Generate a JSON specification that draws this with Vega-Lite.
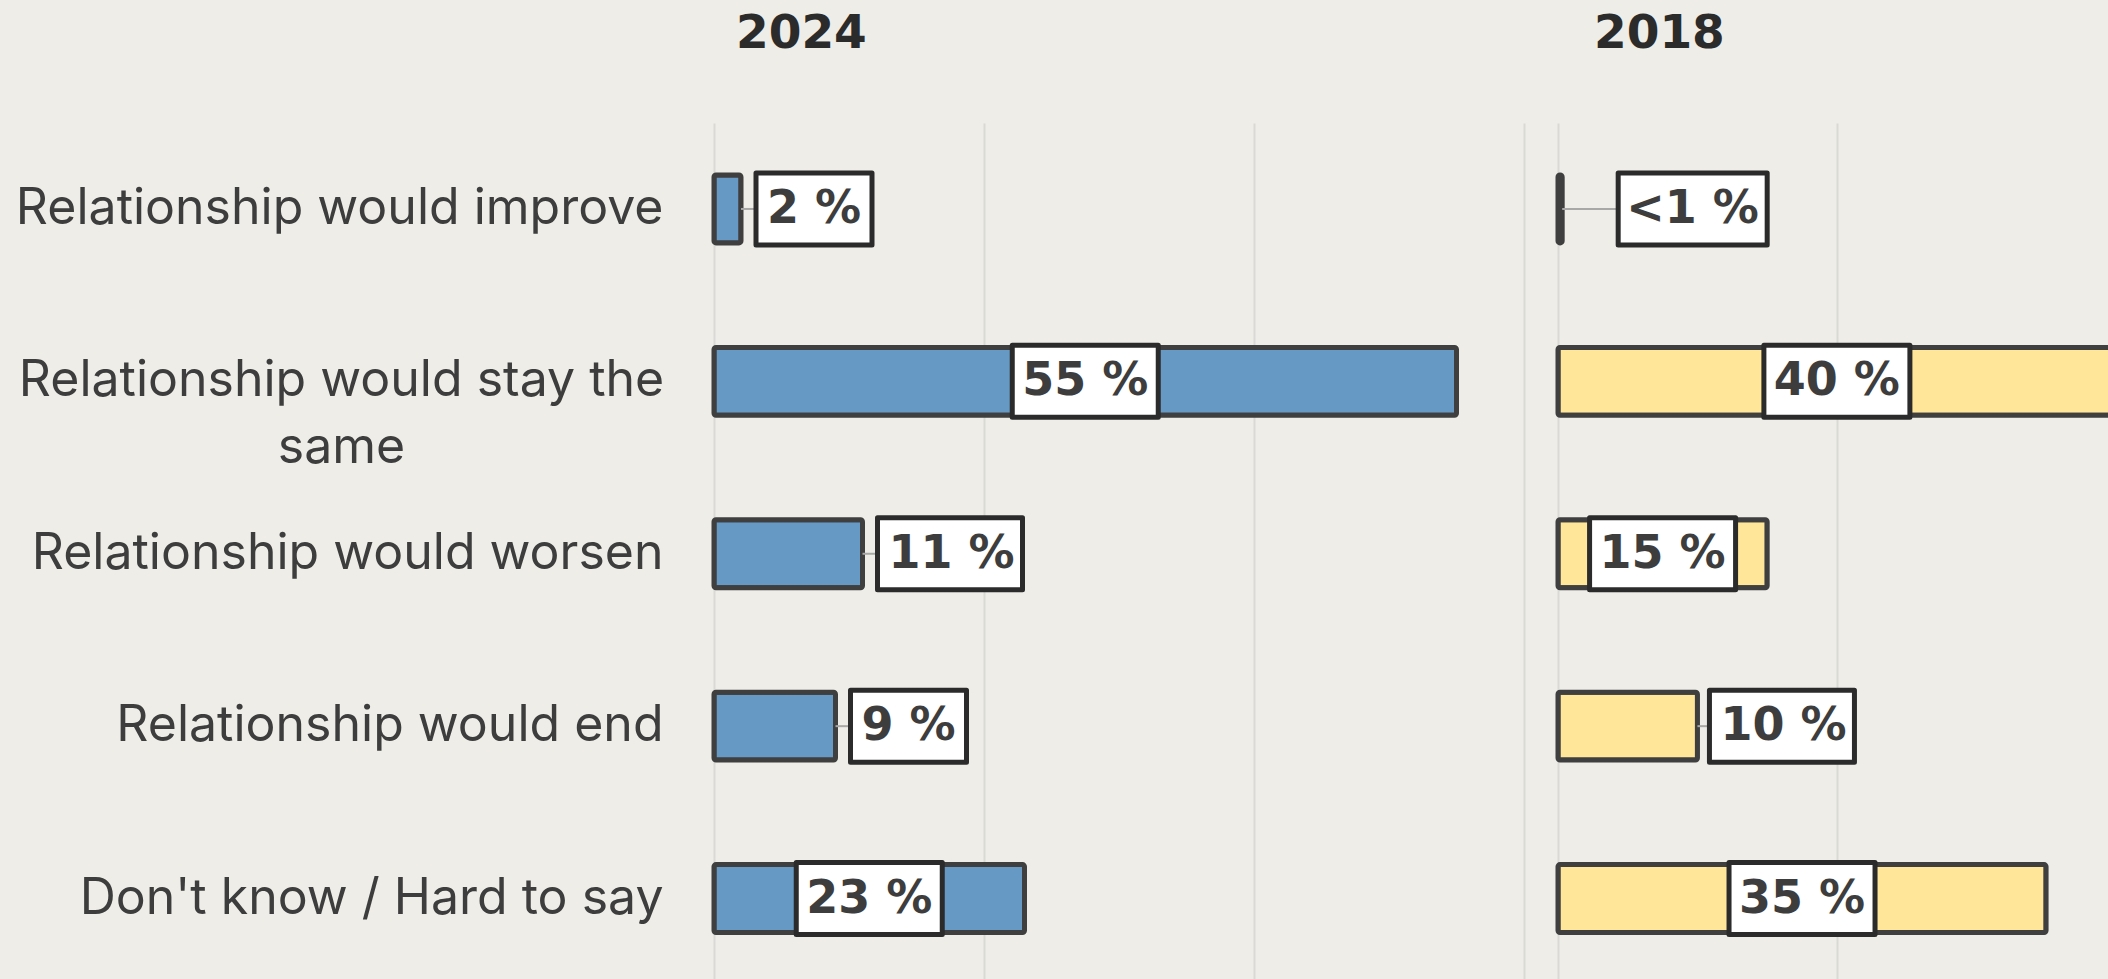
{
  "$schema": "https://vega.github.io/schema/vega-lite/v6.json",
  "background": "#eeede7",
  "padding": {"left": 15, "top": 10, "right": 0, "bottom": 0},
  "config": {"view": {"stroke": null}, "font": "Inter"},
  "spacing": 31,
  "data": {"values": [
    {"year": "2024", "answer": "Relationship would improve", "value": 2, "label": "2 %"},
    {"year": "2024", "answer": "Relationship would stay the same", "value": 55, "label": "55 %"},
    {"year": "2024", "answer": "Relationship would worsen", "value": 11, "label": "11 %"},
    {"year": "2024", "answer": "Relationship would end", "value": 9, "label": "9 %"},
    {"year": "2024", "answer": "Don't know / Hard to say", "value": 23, "label": "23 %"},
    {"year": "2018", "answer": "Relationship would improve", "value": 0.3, "label": "<1 %"},
    {"year": "2018", "answer": "Relationship would stay the same", "value": 40, "label": "40 %"},
    {"year": "2018", "answer": "Relationship would worsen", "value": 15, "label": "15 %"},
    {"year": "2018", "answer": "Relationship would end", "value": 10, "label": "10 %"},
    {"year": "2018", "answer": "Don't know / Hard to say", "value": 35, "label": "35 %"}
  ]},
  "hconcat": [
    {
      "width": 810,
      "height": 856,
      "title": {"text": "2024", "anchor": "start", "frame": "group", "dx": 22, "offset": 28, "baseline": "alphabetic", "font": "DejaVu Sans", "fontSize": 47, "fontWeight": "bold", "color": "#2b2b2b"},
      "transform": [{"filter": "datum.year == '2024'"}],
      "encoding": {
        "y": {
          "field": "answer", "type": "nominal",
          "sort": ["Relationship would improve", "Relationship would stay the same", "Relationship would worsen", "Relationship would end", "Don't know / Hard to say"],
          "scale": {"paddingInner": 0.606, "paddingOuter": 0.2856, "align": 0.528},
          "axis": {
            "title": null, "ticks": false, "domain": false, "grid": false,
            "labelFont": "Inter", "labelFontSize": 50, "labelColor": "#3d3d3d",
            "labelLimit": 1200, "labelLineHeight": 67,
            "labelBaseline": "middle",
            "labelAlign": {"condition": {"test": "datum.value == 'Relationship would stay the same'", "value": "center"}, "value": "right"},
            "labelPadding": {"condition": {"test": "datum.value == 'Relationship would stay the same'", "value": 373}, "value": 51},
            "labelExpr": "datum.label == 'Relationship would stay the same' ? ['Relationship would stay the', 'same'] : datum.label"
          }
        }
      },
      "layer": [
        {
          "mark": {"type": "bar", "color": "#6699c4", "fill": "#6699c4", "fillOpacity": 1, "stroke": "#3f3f3f", "strokeWidth": 5, "cornerRadius": 2},
          "encoding": {
            "x": {"field": "value", "type": "quantitative", "scale": {"domain": [0, 60], "nice": false},
              "axis": {"labels": false, "ticks": false, "domain": false, "title": null, "values": [0, 20, 40, 60], "grid": true, "gridColor": "#d9d9d5", "gridWidth": 2}}
          }
        },
        {
          "transform": [{"filter": "datum.value >= 15"}],
          "encoding": {"x": {"field": "value", "type": "quantitative", "scale": {"domain": [0, 120], "nice": false}, "axis": null}},
          "layer": [
            {"mark": {"type": "point", "shape": "M-0.73,-0.36H0.73V0.36H-0.73Z", "size": 40000, "fill": "#ffffff", "stroke": "#2b2b2b", "strokeWidth": 5, "opacity": 1, "strokeJoin": "round"}},
            {"mark": {"type": "text", "font": "DejaVu Sans", "fontWeight": "bold", "fontSize": 46, "fill": "#3d3d3d", "baseline": "middle", "align": "center"},
              "encoding": {"text": {"field": "label"}}}
          ]
        },
        {
          "transform": [{"filter": "datum.value >= 1 && datum.value < 15"}],
          "encoding": {"x": {"field": "value", "type": "quantitative", "scale": {"domain": [0, 60], "nice": false}, "axis": null}},
          "layer": [
            {"mark": {"type": "rule", "x2Offset": 15, "stroke": "#a8a8a8", "strokeWidth": 2}, "encoding": {"x2": {"field": "value"}}},
            {"mark": {"type": "point", "size": 40000, "fill": "#ffffff", "stroke": "#2b2b2b", "strokeWidth": 5, "opacity": 1, "strokeJoin": "round"},
              "encoding": {"shape": {"condition": {"test": "length(datum.label) > 3", "value": "M0.15,-0.36H1.60V0.36H0.15Z"}, "value": "M0.15,-0.36H1.31V0.36H0.15Z"}}},
            {"mark": {"type": "text", "font": "DejaVu Sans", "fontWeight": "bold", "fontSize": 46, "fill": "#3d3d3d", "baseline": "middle", "align": "left", "dx": 26},
              "encoding": {"text": {"field": "label"}}}
          ]
        }
      ],
      "resolve": {"scale": {"x": "independent"}}
    },
    {
      "width": 555,
      "height": 856,
      "title": {"text": "2018", "anchor": "start", "frame": "group", "dx": 36, "offset": 28, "baseline": "alphabetic", "font": "DejaVu Sans", "fontSize": 47, "fontWeight": "bold", "color": "#2b2b2b"},
      "transform": [{"filter": "datum.year == '2018'"}],
      "encoding": {
        "y": {
          "field": "answer", "type": "nominal",
          "sort": ["Relationship would improve", "Relationship would stay the same", "Relationship would worsen", "Relationship would end", "Don't know / Hard to say"],
          "scale": {"paddingInner": 0.606, "paddingOuter": 0.2856, "align": 0.528},
          "axis": null
        }
      },
      "layer": [
        {
          "mark": {"type": "bar", "color": "#ffe699", "fill": "#ffe699", "fillOpacity": 1, "stroke": "#3f3f3f", "strokeWidth": 5, "cornerRadius": 2},
          "encoding": {
            "x": {"field": "value", "type": "quantitative", "scale": {"domain": [0, 39.8], "nice": false, "clamp": true},
              "axis": {"labels": false, "ticks": false, "domain": false, "title": null, "values": [0, 20], "grid": true, "gridColor": "#d9d9d5", "gridWidth": 2}}
          }
        },
        {
          "transform": [{"filter": "datum.value >= 15"}],
          "encoding": {"x": {"field": "value", "type": "quantitative", "scale": {"domain": [0, 79.6], "nice": false}, "axis": null}},
          "layer": [
            {"mark": {"type": "point", "shape": "M-0.73,-0.36H0.73V0.36H-0.73Z", "size": 40000, "fill": "#ffffff", "stroke": "#2b2b2b", "strokeWidth": 5, "opacity": 1, "strokeJoin": "round"}},
            {"mark": {"type": "text", "font": "DejaVu Sans", "fontWeight": "bold", "fontSize": 46, "fill": "#3d3d3d", "baseline": "middle", "align": "center"},
              "encoding": {"text": {"field": "label"}}}
          ]
        },
        {
          "transform": [{"filter": "datum.value >= 1 && datum.value < 15"}],
          "encoding": {"x": {"field": "value", "type": "quantitative", "scale": {"domain": [0, 39.8], "nice": false}, "axis": null}},
          "layer": [
            {"mark": {"type": "rule", "x2Offset": 12, "stroke": "#a8a8a8", "strokeWidth": 2}, "encoding": {"x2": {"field": "value"}}},
            {"mark": {"type": "point", "size": 40000, "fill": "#ffffff", "stroke": "#2b2b2b", "strokeWidth": 5, "opacity": 1, "strokeJoin": "round"},
              "encoding": {"shape": {"condition": {"test": "length(datum.label) > 3", "value": "M0.12,-0.36H1.57V0.36H0.12Z"}, "value": "M0.12,-0.36H1.28V0.36H0.12Z"}}},
            {"mark": {"type": "text", "font": "DejaVu Sans", "fontWeight": "bold", "fontSize": 46, "fill": "#3d3d3d", "baseline": "middle", "align": "left", "dx": 23},
              "encoding": {"text": {"field": "label"}}}
          ]
        },
        {
          "transform": [{"filter": "datum.value < 1"}],
          "encoding": {"x": {"field": "value", "type": "quantitative", "scale": {"domain": [0, 39.8], "nice": false}, "axis": null}},
          "layer": [
            {"mark": {"type": "rule", "x2Offset": 56, "stroke": "#a8a8a8", "strokeWidth": 2}, "encoding": {"x2": {"field": "value"}}},
            {"mark": {"type": "point", "size": 40000, "fill": "#ffffff", "stroke": "#2b2b2b", "strokeWidth": 5, "opacity": 1, "strokeJoin": "round", "shape": "M0.56,-0.36H2.05V0.36H0.56Z"}},
            {"mark": {"type": "text", "font": "DejaVu Sans", "fontWeight": "bold", "fontSize": 46, "fill": "#3d3d3d", "baseline": "middle", "align": "left", "dx": 64},
              "encoding": {"text": {"field": "label"}}}
          ]
        }
      ],
      "resolve": {"scale": {"x": "independent"}}
    }
  ]
}
